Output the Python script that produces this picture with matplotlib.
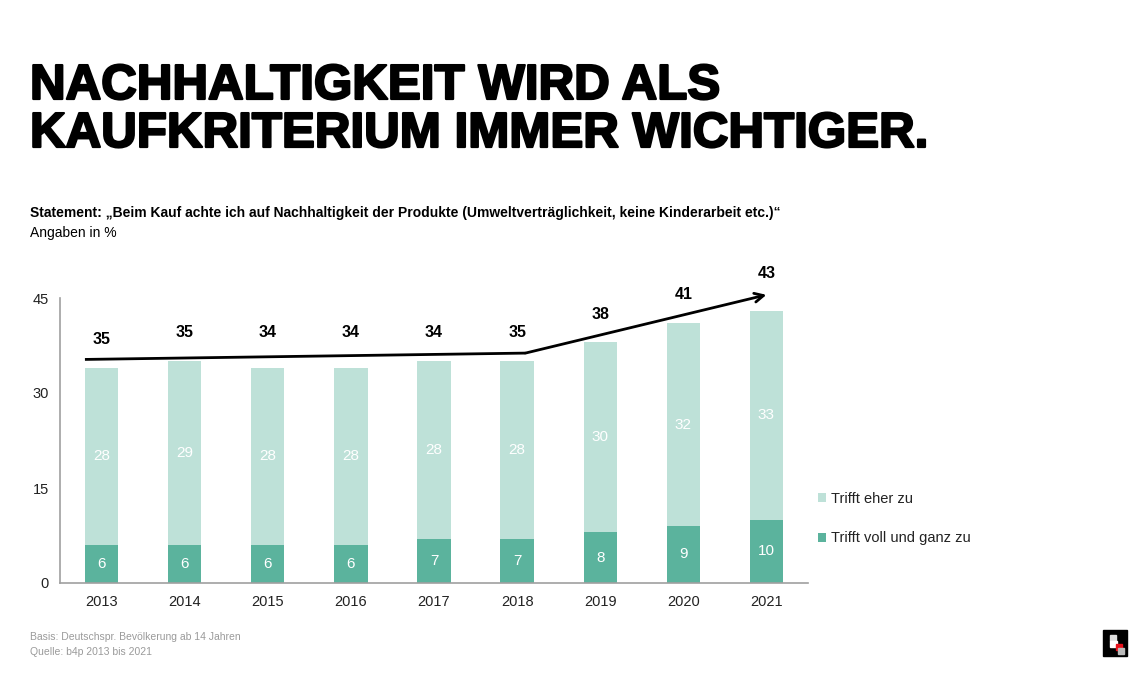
import numpy as np
import matplotlib
matplotlib.use("Agg")
import matplotlib.pyplot as plt
import matplotlib.patheffects as pe
from matplotlib.patches import Rectangle

# data
years = ["2013", "2014", "2015", "2016", "2017", "2018", "2019", "2020", "2021"]
voll = [6, 6, 6, 6, 7, 7, 8, 9, 10]          # Trifft voll und ganz zu
eher = [28, 29, 28, 28, 28, 28, 30, 32, 33]  # Trifft eher zu
totals = [35, 35, 34, 34, 34, 35, 38, 41, 43]
yticks = [0, 15, 30, 45]

c_dark = "#5bb39d"
c_light = "#bee1d8"

plt.rcParams["font.family"] = ["Liberation Sans", "DejaVu Sans"]

fig = plt.figure(figsize=(11.4, 7), dpi=100)
ax = fig.add_axes([60 / 1140, 117 / 700, 748 / 1140, 285 / 700])

x = np.arange(len(years))
b1 = ax.bar(x, voll, width=0.4, color=c_dark, label="Trifft voll und ganz zu")
b2 = ax.bar(x, eher, width=0.4, bottom=voll, color=c_light, label="Trifft eher zu")

for i in range(len(years)):
    ax.text(x[i], voll[i] / 2, str(voll[i]), ha="center", va="center",
            color="white", fontsize=11)
    ax.text(x[i], voll[i] + eher[i] / 2, str(eher[i]), ha="center", va="center",
            color="white", fontsize=11)

# trend arrow (hand drawn in the original), anchored on the totals
line_x = [-0.2, 5.1, 8.0]
line_y = [totals[0] + 0.3, totals[5] + 1.3, totals[8] + 2.5]
ax.plot(line_x[:2], line_y[:2], color="black", lw=2, solid_capstyle="butt", clip_on=False)
ax.annotate("", xy=(line_x[2], line_y[2]), xytext=(line_x[1], line_y[1]),
            arrowprops=dict(arrowstyle="->", color="black", lw=2,
                            shrinkA=0, shrinkB=0, mutation_scale=16),
            annotation_clip=False)

lab_y = np.interp(x, line_x, line_y) + 3.3
lab_y[1:6] = np.maximum(lab_y[1:6], 39.5)
lab_y[0] = 38.4
for i in range(len(years)):
    ax.text(x[i], lab_y[i], str(totals[i]), ha="center", va="center",
            fontsize=11.5, fontweight="bold", color="black")

ax.set_xlim(-0.5, 8.5)
ax.set_ylim(0, 45)
ax.set_yticks(yticks)
ax.set_xticks(x)
ax.set_xticklabels(years)
ax.tick_params(length=0, labelsize=10.5, colors="#222222")
ax.tick_params(axis="y", pad=8)
ax.tick_params(axis="x", pad=9)
for s in ["top", "right"]:
    ax.spines[s].set_visible(False)
for s in ["left", "bottom"]:
    ax.spines[s].set_color("#a0a0a0")
    ax.spines[s].set_linewidth(1.2)

leg = ax.legend(handles=[b2, b1], loc="upper left", bbox_to_anchor=(1.005, 0.34),
                frameon=False, fontsize=10.5, handlelength=0.55, handleheight=0.55,
                handletextpad=0.4, labelspacing=1.75, borderaxespad=0)
for t in leg.get_texts():
    t.set_color("#222222")

# title and texts
title_lines = ["NACHHALTIGKEIT WIRD ALS", "KAUFKRITERIUM IMMER WICHTIGER."]
for line, base in zip(title_lines, [99, 147]):
    fig.text(30 / 1140, 1 - base / 700, line, ha="left", va="baseline",
             fontsize=35.5, fontweight="bold", color="black",
             family=["Liberation Sans", "DejaVu Sans"],
             path_effects=[pe.withStroke(linewidth=1.6, foreground="black")])
fig.text(30 / 1140, 1 - 213 / 700,
         "Statement: \u201eBeim Kauf achte ich auf Nachhaltigkeit der Produkte (Umweltverträglichkeit, keine Kinderarbeit etc.)\u201c",
         ha="left", va="center", fontsize=10, fontweight="bold",
         family=["Liberation Sans Narrow", "Liberation Sans", "DejaVu Sans"])
fig.text(30 / 1140, 1 - 233 / 700, "Angaben in %", ha="left", va="center", fontsize=10,
         family=["Liberation Sans Narrow", "Liberation Sans", "DejaVu Sans"])
fig.text(30 / 1140, 1 - 637 / 700, "Basis: Deutschspr. Bevölkerung ab 14 Jahren",
         ha="left", va="center", fontsize=7.5, color="#9a9a9a")
fig.text(30 / 1140, 1 - 652 / 700, "Quelle: b4p 2013 bis 2021",
         ha="left", va="center", fontsize=7.5, color="#9a9a9a")

# logo
def px(xp, yp, w, h, col):
    fig.patches.append(Rectangle((xp / 1140, 1 - (yp + h) / 700), w / 1140, h / 700,
                                 transform=fig.transFigure, color=col))
px(1103, 630, 24, 26, "black")
px(1110, 635, 6, 6, "#e0e0e0")
px(1110, 641, 7, 6, "white")
px(1116, 644, 6, 6, "#e8101a")
px(1118, 648, 6, 6, "#bbbbbb")

fig.savefig("out.png", dpi=100)
